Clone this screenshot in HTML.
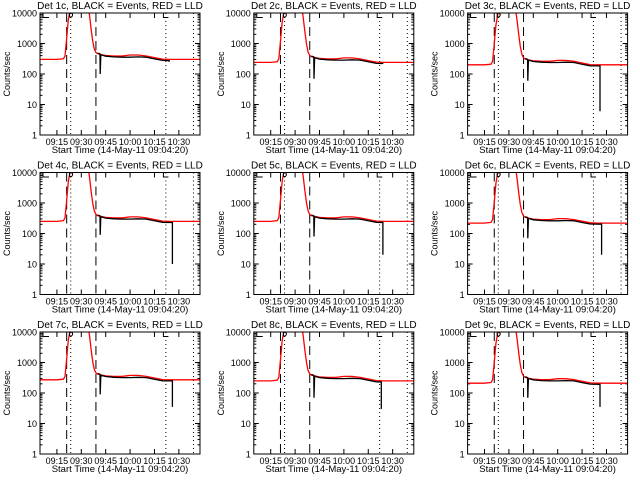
<!DOCTYPE html>
<html><head><meta charset="utf-8"><style>
body{margin:0;background:#fff;width:640px;height:480px;overflow:hidden}
text{font-family:"Liberation Sans",sans-serif;fill:#000}
</style></head><body>
<svg id="chart" width="640" height="480" viewBox="0 0 640 480"></svg>
<script>
const detNames = ["Det 1c","Det 2c","Det 3c","Det 4c","Det 5c","Det 6c","Det 7c","Det 8c","Det 9c"];
const xTickLabels = ["09:15","09:30","09:45","10:00","10:15","10:30"];
const xTickMinutes = [15,30,45,60,75,90];
const yTickValues = [1,10,100,1000,10000];
const yTickLabels = ["1","10","100","1000","10000"];
const dashedLines = [21,39];
const dottedLines = [23.5,82,99];
const redTimes = [4.6,10,15,19,20,21,22,23,24,34,35,36,37,38,39,40,42,45,50,55,60,65,70,75,80,85,90,95,103];
const redShape = [1,1,1,1.05,1.3,5,20,40,70,70,30,10,4,2.2,1.7,1.55,1.45,1.35,1.3,1.3,1.4,1.4,1.3,1.15,1.02,1,1,1,1];
const baseLevels = [300,240,200,250,250,220,270,250,210];
const blackTimes = [40,41.5,41.6,42,45,50,55,60,65,70,75,80];
const blackShape = [1.7,1.6,1.6,1.5,1.35,1.28,1.25,1.25,1.28,1.25,1.1,0.98];
const blackSpikeLow = [100,70,60,90,80,70,90,70,70];
const blackEndTime = [84,84,86,86,84,87,86,83,86];
const blackEndLow = [250,220,6,10,20,20,35,30,35];

const svg = document.getElementById('chart');
const NS = 'http://www.w3.org/2000/svg';
function mk(tag, attrs, parent){const e=document.createElementNS(NS,tag);for(const k in attrs)e.setAttribute(k,attrs[k]);(parent||svg).appendChild(e);return e;}
const W=160,H=122,XMIN=4.6,XMAX=103;
for(let i=0;i<9;i++){
  const col=i%3,row=Math.floor(i/3);
  const L=40+col*213.8, T=13+row*159.5;
  const g=mk('g',{});
  
  
  const xs=t=>L+(t-XMIN)/(XMAX-XMIN)*W;
  const ys=v=>T+H-(Math.log10(Math.max(v,1))/4)*H;
  const clipId='c'+i;
  const cp=mk('clipPath',{id:clipId},g);mk('rect',{x:L,y:T,width:W,height:H},cp);
  yTickValues.forEach((v,k)=>{
    const y=ys(v);
    mk('line',{x1:L,x2:L+5,y1:y,y2:y,stroke:'#000'},g);
    mk('line',{x1:L+W-5,x2:L+W,y1:y,y2:y,stroke:'#000'},g);
    const t=mk('text',{x:L-3,y:y+3.5,'font-size':9,'text-anchor':'end'},g);t.textContent=yTickLabels[k];
    
    
    if(k<4)for(let m=2;m<10;m++){const yy=ys(v*m);mk('line',{x1:L,x2:L+2.5,y1:yy,y2:yy,stroke:'#000'},g);mk('line',{x1:L+W-2.5,x2:L+W,y1:yy,y2:yy,stroke:'#000'},g);}
  });
  xTickMinutes.forEach((m,k)=>{
    const x=xs(m);
    mk('line',{x1:x,x2:x,y1:T+H,y2:T+H-5,stroke:'#000'},g);
    mk('line',{x1:x,x2:x,y1:T,y2:T+5,stroke:'#000'},g);
    const t=mk('text',{x:x,y:T+H+10,'font-size':9,'text-anchor':'middle'},g);t.textContent=xTickLabels[k];
    
    
  });
  dashedLines.forEach(m=>{const x=xs(m);mk('line',{x1:x,x2:x,y1:T,y2:T+H,stroke:'#000','stroke-dasharray':'9,5'},g);});
  dottedLines.forEach(m=>{const x=xs(m);mk('line',{x1:x,x2:x,y1:T,y2:T+H,stroke:'#000','stroke-dasharray':'1,3'},g);});
  let p='';redTimes.forEach((t,k)=>{const v=redShape[k]*baseLevels[i];p+=(k?'L':'M')+xs(t).toFixed(1)+','+ys(v).toFixed(1);});
  const red=mk('path',{d:p,fill:'none',stroke:'#f00','stroke-width':1.3,'clip-path':'url(#'+clipId+')'},g);
  
  
  let b='';
  blackTimes.forEach((t,k)=>{let v=blackShape[k]*baseLevels[i]*0.95;if(k===2)v=blackSpikeLow[i];b+=(k?'L':'M')+xs(t).toFixed(1)+','+ys(v).toFixed(1);});
  const vEnd=baseLevels[i]*0.92;
  b+='L'+xs(blackEndTime[i]).toFixed(1)+','+ys(vEnd).toFixed(1)+'L'+xs(blackEndTime[i]).toFixed(1)+','+ys(blackEndLow[i]).toFixed(1);
  const blk=mk('path',{d:b,fill:'none',stroke:'#000','stroke-width':1.3,'clip-path':'url(#'+clipId+')'},g);
  
  
  mk('rect',{x:L,y:T,width:W,height:H,fill:'none',stroke:'#000','stroke-width':1},g);
  const bx1=L+3, bx2=xs(22.8), bx3=xs(80.5);
  mk('path',{d:`M${bx1},${T}V${T+4.5}H${bx1+6}M${bx3},${T}V${T+4.5}H${bx3+5}M${bx2},${T}V${T+4}H${bx2+2}Q${bx2+4},${T+2} ${bx2+2},${T}`,fill:'none',stroke:'#000'},g);
  const tt=mk('text',{x:L+W/2,y:T-4,'font-size':10,'text-anchor':'middle'},g);
  tt.textContent=detNames[i]+', BLACK = Events, RED = LLD';
  
  
  const xl=mk('text',{x:L+W/2,y:T+H+18,'font-size':9.5,'text-anchor':'middle'},g);
  xl.textContent='Start Time (14-May-11 09:04:20)';
  
  
  const yl=mk('text',{x:0,y:0,'font-size':9,'text-anchor':'middle',transform:`translate(${L-30},${T+H/2}) rotate(-90)`},g);
  yl.textContent='Counts/sec';
  
  
}
</script>
</body></html>
